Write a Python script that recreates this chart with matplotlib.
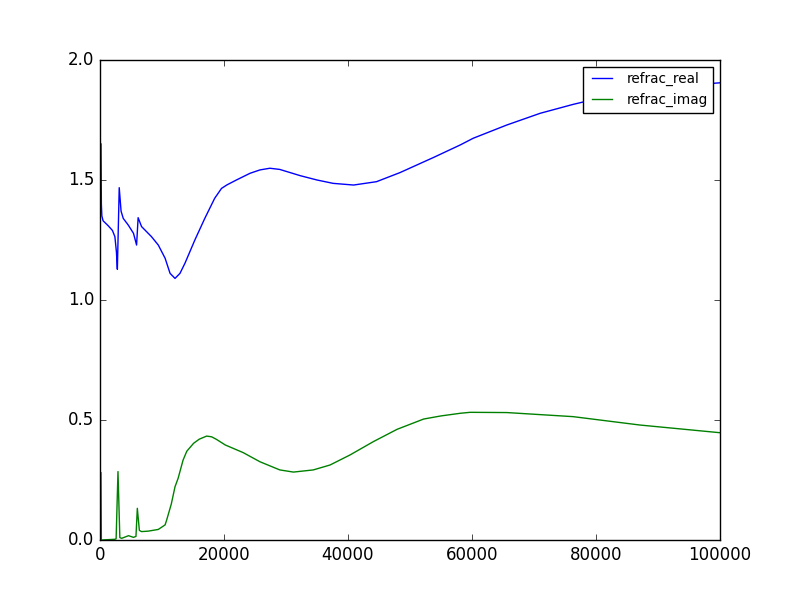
import matplotlib
matplotlib.use("Agg")
import matplotlib.pyplot as plt

# wavenumber grid points
x_real = [160, 220, 300, 500, 1300, 2000, 2400, 2650, 2800, 3100, 3400, 3750,
          4550, 5400, 5900, 6150, 6700, 8300, 9400, 10500, 11300, 12100,
          12900, 13700, 15300, 16900, 18500, 19600, 20500, 22000, 24200,
          25800, 27400, 29000, 32300, 35000, 37600, 40900, 44600, 48400,
          53800, 58100, 60200, 65600, 71000, 76300, 82000, 88000, 94000,
          100000]
refrac_real = [1.65, 1.40, 1.35, 1.33, 1.31, 1.29, 1.264, 1.2, 1.128, 1.468,
               1.37, 1.34, 1.3125, 1.278, 1.229, 1.343, 1.306, 1.264, 1.229,
               1.174, 1.111, 1.09, 1.111, 1.153, 1.25, 1.34, 1.424, 1.465,
               1.48, 1.50, 1.528, 1.542, 1.549, 1.544, 1.518, 1.50, 1.486,
               1.479, 1.493, 1.531, 1.594, 1.646, 1.674, 1.729, 1.778, 1.815,
               1.85, 1.875, 1.893, 1.905]

x_imag = [160, 220, 2400, 2600, 2900, 3200, 3500, 4600, 5400, 5800, 6020, 6350,
          6700, 7800, 9400, 10500, 10750, 11500, 12100, 12600, 13400, 14000,
          15100, 16000, 17200, 18000, 18800, 20200, 23100, 25800, 29000,
          31200, 34400, 37100, 40300, 44100, 47900, 52200, 55000, 58100,
          59700, 65600, 76300, 87100, 100000]
refrac_imag = [0.28, 0.0, 0.003, 0.005, 0.285, 0.01, 0.007, 0.018, 0.011,
               0.015, 0.132, 0.04, 0.035, 0.037, 0.044, 0.063, 0.083, 0.15,
               0.222, 0.257, 0.333, 0.37, 0.403, 0.42, 0.433, 0.43, 0.419,
               0.396, 0.364, 0.326, 0.292, 0.283, 0.292, 0.3125, 0.354, 0.410,
               0.461, 0.504, 0.517, 0.528, 0.532, 0.531, 0.514, 0.479, 0.447]

plt.style.use('classic')
fig, ax = plt.subplots(figsize=(8, 6), dpi=100)

ax.plot(x_real, refrac_real, color='b', label='refrac_real')
ax.plot(x_imag, refrac_imag, color='g', label='refrac_imag')

ax.set_xlim(0, 100000)
ax.set_ylim(0, 2.0)
ax.legend(loc='upper right', fontsize=9.8)

fig.savefig('out.png', dpi=100)
